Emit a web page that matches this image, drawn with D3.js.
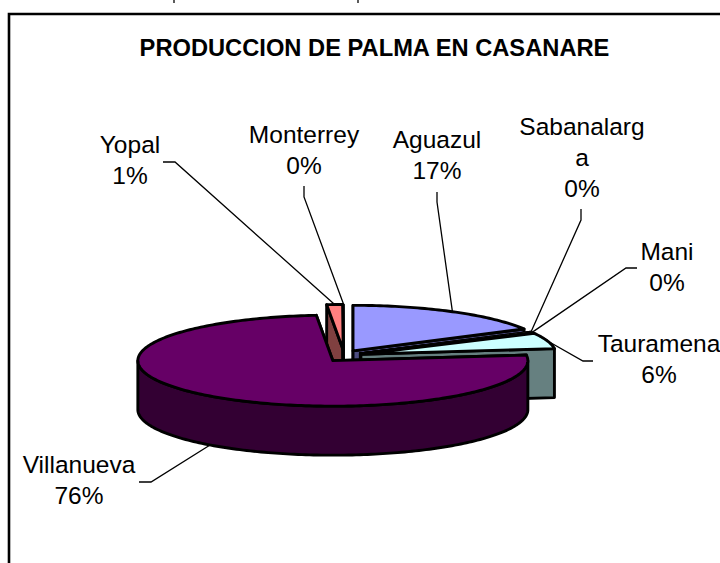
<!DOCTYPE html>
<html><head><meta charset="utf-8">
<script src="https://cdn.jsdelivr.net/npm/d3@7"></script>
<style>html,body{margin:0;padding:0;background:#fff;overflow:hidden}svg{display:block}text{font-family:"Liberation Sans",Arial,sans-serif;fill:#000}</style>
</head><body><svg id="c" width="720" height="563"></svg>
<script>
const chartTitle = "PRODUCCION DE PALMA EN CASANARE";
const categories = ["Aguazul","Sabanalarga","Mani","Tauramena","Villanueva","Yopal","Monterrey"];
const values = [17, 0.2, 0.2, 5.6, 75.5, 1.3, 0.05];
const sliceColors = ["#9999FF","#993366","#FFFFCC","#CCFFFF","#660066","#FF8080","#0066CC"];

// layout of the labels, per category
const labelLayout = {
  Aguazul:     {x:437, y:148, lines:["Aguazul"], elbow:[[437,192],[437,202]]},
  Sabanalarga: {x:582, y:135, lines:["Sabanalarg","a"], elbow:[[581,209],[581,220]]},
  Mani:        {x:667, y:260, lines:["Mani"], elbow:[[637,268],[626,268]]},
  Tauramena:   {x:659, y:352, lines:["Tauramena"], elbow:[[593,361],[583,361]]},
  Villanueva:  {x:79,  y:473, lines:["Villanueva"], elbow:[[139,482],[151,482]]},
  Yopal:       {x:130, y:153, lines:["Yopal"], elbow:[[163,162],[175,162]]},
  Monterrey:   {x:304, y:143, lines:["Monterrey"], elbow:[[304,186],[304,197]]}
};
const drawOrder = ["Monterrey","Yopal","Aguazul","Sabanalarga","Mani","Tauramena","Villanueva"];

const svg = d3.select("#c");
const total = d3.sum(values);
const pct = d3.format(".0%");
const C = {x:344, y:356}, R = {x:195, y:45.5}, EXPL = {x:17.7, y:6}, DEPTH = 49;
const sx = d3.scaleLinear().domain([-1,1]).range([-R.x,R.x]);
const sy = d3.scaleLinear().domain([-1,1]).range([-R.y,R.y]);

const arcs = d3.pie().sort(null).value(d=>d.v).startAngle(0).endAngle(2*Math.PI)(
  categories.map((c,i)=>({c, v:values[i], color:sliceColors[i]})));
const byName = new Map(arcs.map(a=>[a.data.c,a]));

function geometry(a){
  const mid=(a.startAngle+a.endAngle)/2;
  const cx=C.x+EXPL.x*Math.sin(mid), cy=C.y-EXPL.y*Math.cos(mid);
  const pt=t=>[cx+sx(Math.sin(t)), cy-sy(Math.cos(t))];
  return {mid,cx,cy,pt};
}
function samples(t0,t1){
  const n=Math.max(2,Math.ceil((t1-t0)/0.02));
  return d3.range(n+1).map(i=>t0+(t1-t0)*i/n);
}
const line=d3.line(), closed=pts=>line(pts)+"Z";
const dark=c=>{const r=d3.rgb(c);return d3.rgb(r.r/2,r.g/2,r.b/2).formatHex();};
const down=p=>[p[0],p[1]+DEPTH];

const pieG=svg.append("g").attr("stroke","#000").attr("stroke-width",2.9).attr("stroke-linejoin","round");
drawOrder.forEach(name=>{
  const a=byName.get(name), g=geometry(a), col=a.data.color, apex=[g.cx,g.cy];
  const wall=dark(col);
  const sw=(a.data.v/total<0.005)?1.3:2.9;   // hairline slices keep a thinner outline
  // radial cut faces
  [a.startAngle,a.endAngle].forEach(t=>{
    const p=g.pt(t);
    pieG.append("path").attr("fill",wall).attr("stroke-width",sw).attr("d",closed([apex,p,down(p),down(apex)]));
  });
  // outer rim (front half only)
  const t0=Math.max(a.startAngle,Math.PI/2), t1=Math.min(a.endAngle,3*Math.PI/2);
  if(t1>t0){
    const rim=samples(t0,t1).map(g.pt);
    pieG.append("path").attr("fill",wall).attr("d",closed(rim.concat(rim.slice().reverse().map(down))));
  }
  // top face
  pieG.append("path").attr("fill",col).attr("stroke-width",sw)
    .attr("d",closed([apex].concat(samples(a.startAngle,a.endAngle).map(g.pt))));
});

// frame (only the top and left edges fall inside the picture)
svg.append("path").attr("fill","none").attr("stroke","#000").attr("stroke-width",2.6)
  .attr("d","M9,563V14H720");

// specks left by the line cropped above the chart
[174,358].forEach(x=>svg.append("path").attr("stroke","#333").attr("stroke-width",1.6).attr("d",`M${x},0V3`));

// title
svg.append("text").attr("x",374.5).attr("y",56).attr("text-anchor","middle")
  .attr("font-size",23.7).attr("font-weight","bold").text(chartTitle);

// leaders + labels
const lh=31;
arcs.forEach(a=>{
  const name=a.data.c, L=labelLayout[name], g=geometry(a);
  let anchor=g.pt(g.mid);
  if(g.mid>Math.PI/2 && g.mid<3*Math.PI/2) anchor=down(anchor);
  svg.append("path").attr("fill","none").attr("stroke","#000").attr("stroke-width",1.3)
    .attr("d",line(L.elbow.concat([anchor])));
  const rows=L.lines.concat([pct(a.data.v/total)]);
  rows.forEach((r,i)=>svg.append("text").attr("x",L.x).attr("y",L.y+i*lh)
    .attr("text-anchor","middle").attr("font-size",24.5).text(r));
});
</script></body></html>
